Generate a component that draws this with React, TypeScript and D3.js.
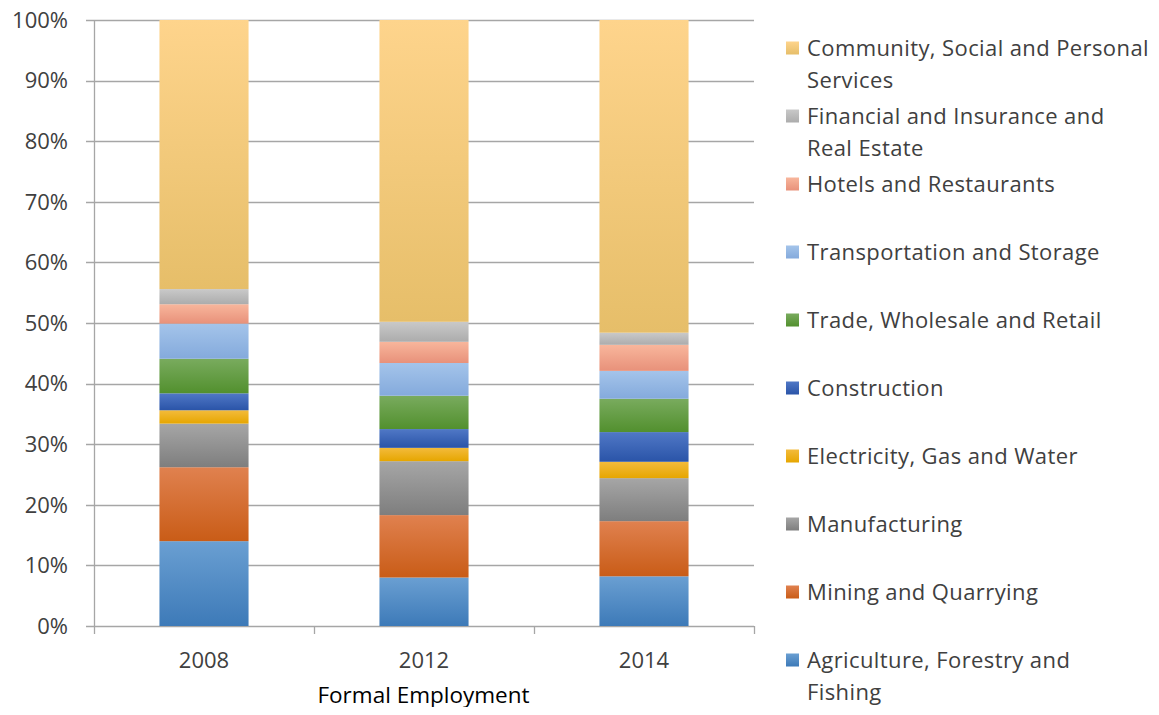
import * as d3 from "d3";
import { useEffect, useRef } from "react";

// years on x axis
const years = ["2008", "2012", "2014"];

// sector names, bottom to top of the stack
const sectors = [
  "Agriculture, Forestry and Fishing",
  "Mining and Quarrying",
  "Manufacturing",
  "Electricity, Gas and Water",
  "Construction",
  "Trade, Wholesale and Retail",
  "Transportation and Storage",
  "Hotels and Restaurants",
  "Financial and Insurance and Real Estate",
  "Community, Social and Personal Services",
];

// share of formal employment (%), per sector, one value per year
const agriculture = [14.0, 8.0, 8.2];
const mining = [12.2, 10.3, 9.1];
const manufacturing = [7.2, 8.9, 7.1];
const electricity = [2.2, 2.2, 2.7];
const construction = [2.8, 3.1, 4.9];
const trade = [5.7, 5.5, 5.5];
const transport = [5.8, 5.4, 4.6];
const hotels = [3.2, 3.5, 4.3];
const finance = [2.5, 3.3, 2.0];
const community = [44.4, 49.8, 51.6];

const seriesValues = [agriculture, mining, manufacturing, electricity, construction, trade, transport, hotels, finance, community];

const yTicks = [0, 10, 20, 30, 40, 50, 60, 70, 80, 90, 100];

// gradient colours top -> bottom
const colors: [string, string][] = [
  ["#6a9fd2", "#3d7ab8"],
  ["#e0814f", "#c95c17"],
  ["#a6a6a6", "#7e7e7e"],
  ["#f3bb3c", "#e6a600"],
  ["#5078c6", "#2a54a8"],
  ["#79ab5e", "#52902e"],
  ["#a4c4ea", "#84aadc"],
  ["#f8b69c", "#e8917a"],
  ["#c9c9c9", "#acacac"],
  ["#fed48c", "#e6be69"],
];

// legend text, wrapped like in the original
const legendLines = [
  ["Community, Social and Personal", "Services"],
  ["Financial and Insurance and", "Real Estate"],
  ["Hotels and Restaurants"],
  ["Transportation and Storage"],
  ["Trade, Wholesale and Retail"],
  ["Construction"],
  ["Electricity, Gas and Water"],
  ["Manufacturing"],
  ["Mining and Quarrying"],
  ["Agriculture, Forestry and", "Fishing"],
];

const W = 1159;
const H = 715;
const font = "'Open Sans', sans-serif";

const App = () => {
  const ref = useRef<SVGSVGElement>(null);

  useEffect(() => {
    const svg = d3.select(ref.current);
    svg.selectAll("*").remove();

    const margin = { top: 20, left: 94, right: 405, bottom: 89 };
    const bw = W - margin.left - margin.right;
    const bh = H - margin.top - margin.bottom;

    const x = d3.scaleBand().domain(years).range([0, bw]).paddingInner(0.595).paddingOuter(0.2975);
    const y = d3.scaleLinear().domain([0, 100]).range([bh, 0]);

    const defs = svg.append("defs");
    colors.forEach((c, i) => {
      const g = defs.append("linearGradient").attr("id", "g" + i).attr("x1", 0).attr("y1", 0).attr("x2", 0).attr("y2", 1);
      g.append("stop").attr("offset", "0%").attr("stop-color", c[0]);
      g.append("stop").attr("offset", "100%").attr("stop-color", c[1]);
    });

    const root = svg.append("g").attr("transform", `translate(${margin.left},${margin.top})`);

    // gridlines
    root.append("g")
      .selectAll("line")
      .data(yTicks)
      .join("line")
      .attr("x1", -8)
      .attr("x2", bw)
      .attr("y1", (d) => Math.round(y(d)) + 0.5)
      .attr("y2", (d) => Math.round(y(d)) + 0.5)
      .attr("stroke", "#a6a6a6")
      .attr("stroke-width", 1.3);

    // stack
    const table = years.map((yr, j) => {
      const row: any = { year: yr };
      sectors.forEach((s, i) => (row[s] = seriesValues[i][j]));
      return row;
    });
    const stacked = d3.stack().keys(sectors)(table);

    stacked.forEach((layer, i) => {
      root.append("g")
        .selectAll("rect")
        .data(layer)
        .join("rect")
        .attr("x", (d: any) => x(d.data.year)!)
        .attr("width", x.bandwidth())
        .attr("y", (d) => y(d[1]))
        .attr("height", (d) => y(d[0]) - y(d[1]))
        .attr("fill", `url(#g${i})`);
    });

    // y axis line
    root.append("line").attr("x1", 0.5).attr("x2", 0.5).attr("y1", 0).attr("y2", bh).attr("stroke", "#a6a6a6").attr("stroke-width", 1.3);

    // x axis ticks at category boundaries
    const step = bw / years.length;
    root.append("g")
      .selectAll("line")
      .data(d3.range(years.length + 1))
      .join("line")
      .attr("x1", (d) => d * step + 0.5)
      .attr("x2", (d) => d * step + 0.5)
      .attr("y1", bh)
      .attr("y2", bh + 8)
      .attr("stroke", "#a6a6a6")
      .attr("stroke-width", 1.3);

    // y labels
    root.append("g")
      .selectAll("text")
      .data(yTicks)
      .join("text")
      .attr("x", -26)
      .attr("y", (d) => y(d))
      .attr("dy", "0.35em")
      .attr("text-anchor", "end")
      .style("font-family", font)
      .style("font-size", "22px")
      .attr("fill", "#404040")
      .text((d) => d + "%");

    // x labels
    root.append("g")
      .selectAll("text")
      .data(years)
      .join("text")
      .attr("x", (d) => x(d)! + x.bandwidth() / 2)
      .attr("y", bh + 34)
      .attr("dy", "0.35em")
      .attr("text-anchor", "middle")
      .style("font-family", font)
      .style("font-size", "22px")
      .attr("fill", "#404040")
      .text((d) => d);

    // axis title
    root.append("text")
      .attr("x", x("2012")! + x.bandwidth() / 2 - 0.5)
      .attr("y", bh + 77)
      .attr("text-anchor", "middle")
      .style("font-family", font)
      .style("font-size", "22.5px")
      .attr("fill", "#000")
      .text("Formal Employment");

    // legend
    const leg = svg.append("g").attr("transform", "translate(786,48)");
    legendLines.forEach((lines, k) => {
      const i = sectors.length - 1 - k;
      const g = leg.append("g").attr("transform", `translate(0,${k * 68})`);
      g.append("rect").attr("x", 0).attr("y", -6.5).attr("width", 13).attr("height", 13).attr("fill", `url(#g${i})`);
      lines.forEach((t, l) => {
        g.append("text")
          .attr("x", 21)
          .attr("y", l * 32)
          .attr("dy", "0.35em")
          .style("font-family", font)
          .style("font-size", "22px")
          .style("letter-spacing", "0.4px")
          .attr("fill", "#404040")
          .text(t);
      });
    });
  }, []);

  return <svg ref={ref} width={W} height={H} style={{ display: "block", margin: "-8px" }}></svg>;
};

export default App;
